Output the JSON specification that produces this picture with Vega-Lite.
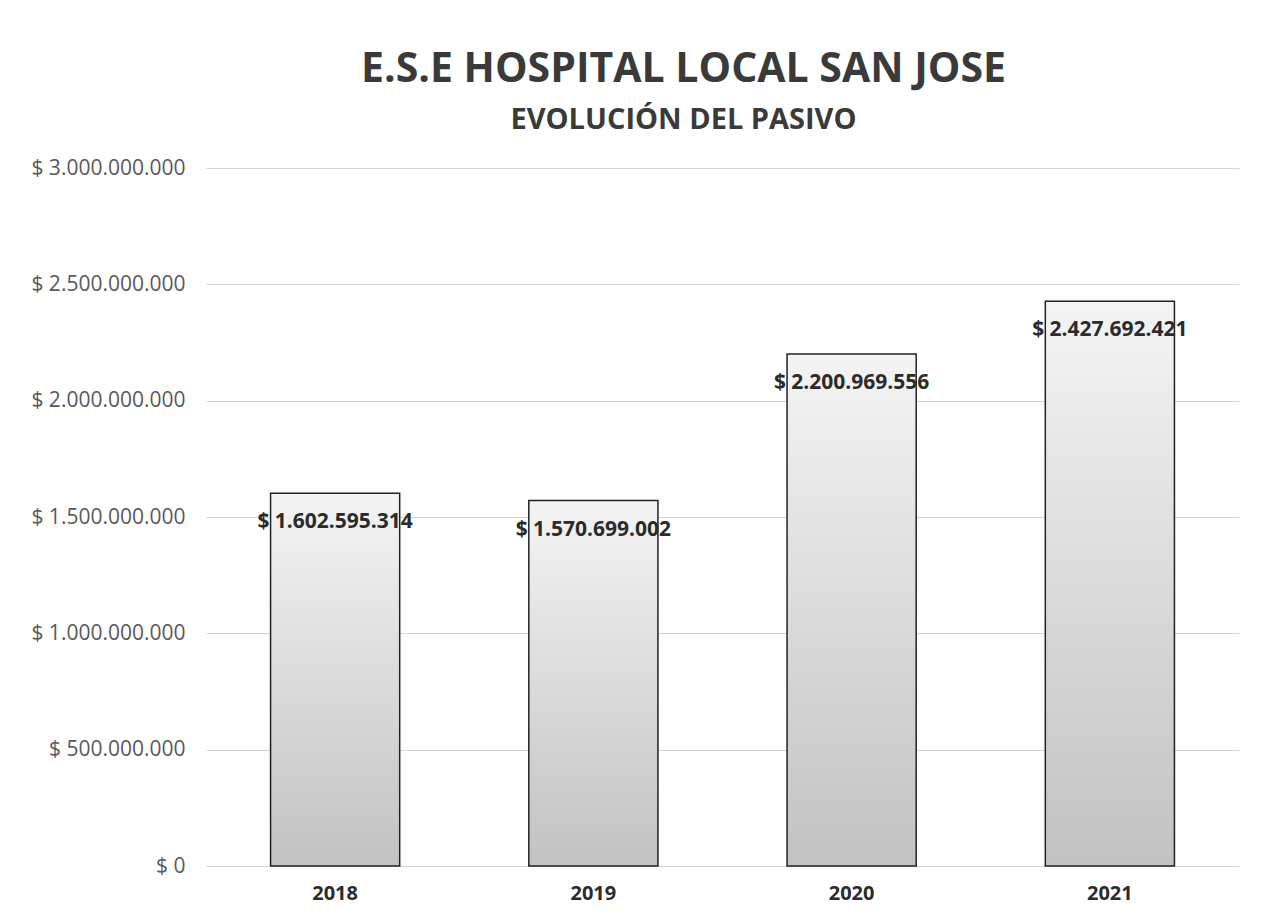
{
  "$schema": "https://vega.github.io/schema/vega-lite/v6.json",
  "width": 1033,
  "height": 698,
  "autosize": {"type": "none"},
  "padding": {"left": 206, "top": 168, "right": 26, "bottom": 54},
  "background": "white",
  "config": {
    "locale": {"number": {"decimal": ",", "thousands": ".", "grouping": [3], "currency": ["$ ", ""]}},
    "view": {"stroke": null},
    "font": "Open Sans"
  },
  "title": {
    "text": "E.S.E HOSPITAL LOCAL SAN JOSE",
    "subtitle": "EVOLUCIÓN DEL PASIVO",
    "anchor": "middle",
    "dx": -39,
    "offset": 21,
    "font": "Open Sans",
    "fontSize": 41,
    "fontWeight": "bold",
    "color": "#3a3a3a",
    "subtitleFont": "Open Sans",
    "subtitleFontSize": 29,
    "subtitleFontWeight": "bold",
    "subtitleColor": "#3a3a3a",
    "subtitlePadding": 15
  },
  "data": {
    "values": [
      {"year": "2018", "pasivo": 1602595314},
      {"year": "2019", "pasivo": 1570699002},
      {"year": "2020", "pasivo": 2200969556},
      {"year": "2021", "pasivo": 2427692421}
    ]
  },
  "encoding": {
    "x": {
      "field": "year",
      "type": "nominal",
      "scale": {"paddingInner": 0.5, "paddingOuter": 0.25},
      "axis": {
        "title": null,
        "labelAngle": 0,
        "labelFontSize": 20,
        "labelFontWeight": "bold",
        "labelColor": "#2b2b2b",
        "labelPadding": 17,
        "ticks": false,
        "domain": false
      }
    },
    "y": {
      "field": "pasivo",
      "type": "quantitative",
      "scale": {"domain": [0, 3000000000]},
      "axis": {
        "title": null,
        "values": [0, 500000000, 1000000000, 1500000000, 2000000000, 2500000000, 3000000000],
        "format": "$,.0f",
        "labelFontSize": 21,
        "labelColor": "#595959",
        "labelPadding": 21,
        "ticks": false,
        "domain": false,
        "gridColor": "#d4d4d4",
        "gridWidth": 1
      }
    }
  },
  "layer": [
    {
      "mark": {
        "type": "bar",
        "stroke": "#222222",
        "strokeWidth": 1.5,
        "fill": {
          "gradient": "linear",
          "x1": 0, "y1": 0, "x2": 0, "y2": 1,
          "stops": [
            {"offset": 0, "color": "#f4f4f4"},
            {"offset": 1, "color": "#c2c2c4"}
          ]
        }
      }
    },
    {
      "mark": {
        "type": "text",
        "baseline": "middle",
        "align": "center",
        "dy": 29,
        "fontSize": 21,
        "fontWeight": "bold",
        "color": "#2b2b2b"
      },
      "encoding": {
        "text": {"field": "pasivo", "type": "quantitative", "format": "$,.0f"}
      }
    }
  ]
}
